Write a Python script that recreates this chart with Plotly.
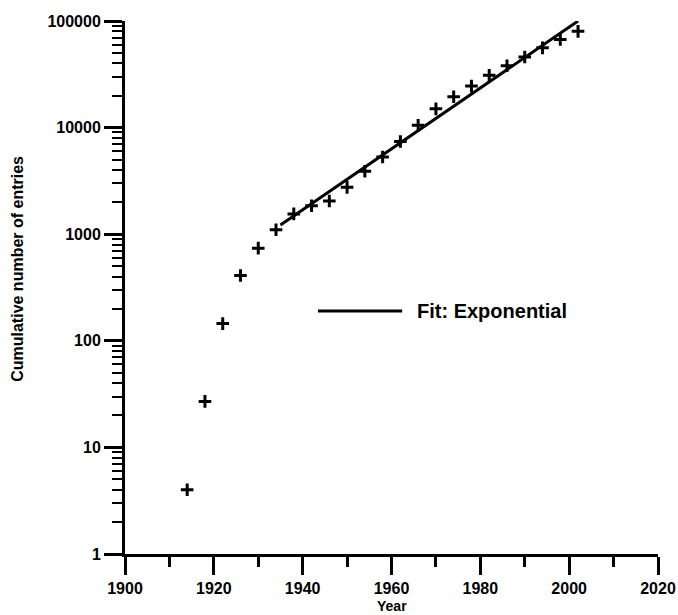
import plotly.graph_objects as go

years = [1914, 1918, 1922, 1926, 1930, 1934, 1938, 1942, 1946, 1950, 1954, 1958,
         1962, 1966, 1970, 1974, 1978, 1982, 1986, 1990, 1994, 1998, 2002]
entries = [4, 27, 145, 410, 740, 1100, 1550, 1850, 2050, 2750, 3900, 5300,
           7400, 10500, 15000, 19500, 24500, 31000, 38000, 46000, 56000, 67000, 80000]

fit_years = [1935, 2002]
fit_values = [1220, 100000]

y_tickvals = [1, 10, 100, 1000, 10000, 100000]
y_ticktext = ["1", "10", "100", "1000", "10000", "100000"]
x_tickvals = [1900, 1920, 1940, 1960, 1980, 2000, 2020]

FONT = "Liberation Sans, Arial, sans-serif"

fig = go.Figure()
fig.add_trace(go.Scatter(
    x=years, y=entries, mode="markers",
    marker=dict(symbol="cross-thin", size=9, line=dict(width=3, color="black"), color="black"),
    showlegend=False, cliponaxis=False))
fig.add_trace(go.Scatter(
    x=fit_years, y=fit_values, mode="lines",
    line=dict(color="black", width=3), showlegend=False, cliponaxis=False))

axis_common = dict(showline=True, linecolor="black", linewidth=3, ticks="outside",
                   ticklen=18, tickwidth=3, tickcolor="black", showgrid=False, zeroline=False,
                   automargin=False,
                   tickfont=dict(family=FONT, size=16, color="black", weight="bold"))

fig.update_xaxes(range=[1900, 2020], tickvals=x_tickvals, ticklabelstandoff=0,
                 minor=dict(dtick=10, tick0=1900, ticks="outside", ticklen=10, tickwidth=3,
                            tickcolor="black", showgrid=False),
                 **axis_common)
fig.update_yaxes(type="log", range=[0, 5], tickvals=y_tickvals, ticktext=y_ticktext,
                 minor=dict(dtick="D1", ticks="outside", ticklen=10, tickwidth=2,
                            tickcolor="black", showgrid=False),
                 **axis_common)

# Legend sample (line + label)
fig.add_shape(type="line", xref="paper", yref="paper", x0=0.362, x1=0.520, y0=0.456, y1=0.456,
              line=dict(color="black", width=3))
fig.add_annotation(xref="paper", yref="paper", x=0.544, y=0.456, xanchor="left", yanchor="middle",
                   text="Fit: Exponential", showarrow=False,
                   font=dict(family=FONT, size=20, color="black", weight="bold"))

# Axis titles
fig.add_annotation(xref="paper", yref="paper", x=-0.2008, y=0.535, xanchor="center", yanchor="middle",
                   text="Cumulative number of entries", textangle=-90, showarrow=False,
                   font=dict(family=FONT, size=16, color="black", weight="bold"))
fig.add_annotation(xref="paper", yref="paper", x=0.5, y=-0.1144, xanchor="center", yanchor="bottom",
                   text="Year", showarrow=False, borderpad=0,
                   font=dict(family=FONT, size=14, color="black", weight="bold"))

fig.update_layout(width=678, height=615, margin=dict(l=125, r=20, t=21, b=61),
                  paper_bgcolor="white", plot_bgcolor="white", showlegend=False)

fig.write_html("out.html")
